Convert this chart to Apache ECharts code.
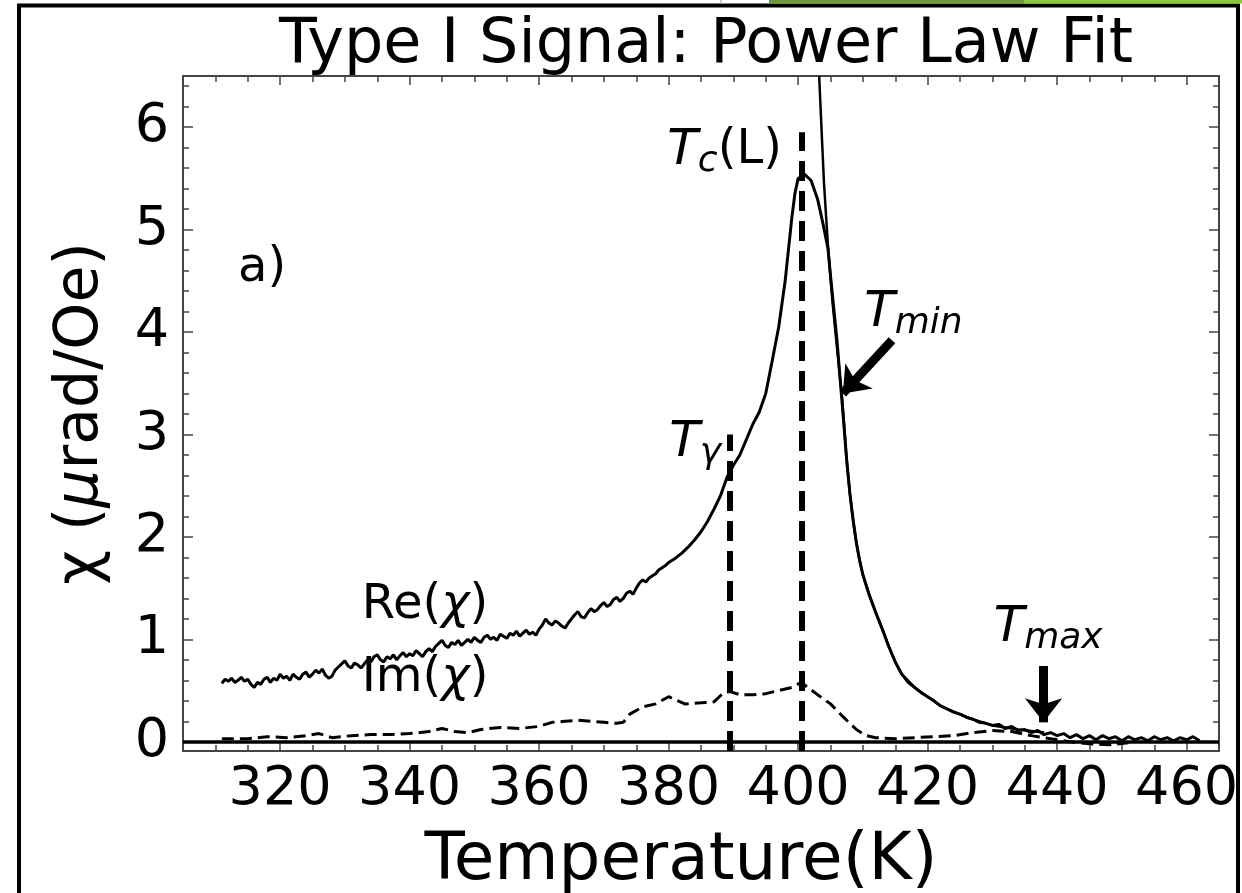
<!DOCTYPE html>
<html>
<head>
<meta charset="utf-8">
<script src="https://cdn.jsdelivr.net/npm/echarts@6/dist/echarts.min.js"></script>
<style>
html,body{margin:0;padding:0;background:#fff;overflow:hidden;}
#chart{width:1242px;height:893px;}
</style>
</head>
<body>
<div id="chart"></div>
<script>
// ---- Data ----
const reT = [311,311.5,312,312.5,313,313.5,314,314.5,315,315.5,316,316.5,317,317.5,318,318.5,319,319.5,320,320.5,321,321.5,322,322.5,323,323.5,324,324.5,325,325.5,326,326.5,327,327.5,328,328.5,329,329.5,330,330.5,331,331.5,332,332.5,333,333.5,334,334.5,335,335.5,336,336.5,337,337.5,338,338.5,339,339.5,340,340.5,341,341.5,342,342.5,343,343.5,344,344.5,345,345.5,346,346.5,347,347.5,348,348.5,349,349.5,350,350.5,351,351.5,352,352.5,353,353.5,354,354.5,355,355.5,356,356.5,357,357.5,358,358.5,359,359.5,360,360.5,361,361.5,362,362.5,363,363.5,364,364.5,365,365.5,366,366.5,367,367.5,368,368.5,369,369.5,370,370.5,371,371.5,372,372.5,373,373.5,374,374.5,375,375.5,376,376.5,377,377.5,378,378.5,379,379.5,380,381,382,383,384,385,386,387,388,389,390,391,392,393,394,395,396,397,398,399,399.5,400,401,402,403,403.8,404.6,405,406,407,407.5,408,408.5,409,409.5,410,411,412,413,414,415,416,417,418,419,420,421,422,423,424,425,426,427,428,429,430,431,432,433,434,435,436,437,438,439,440,441,442,443,444,445,446,447,448,449,450,451,452,453,454,455,456,457,458,459,460,461,462];
const reV = [0.57,0.61,0.59,0.62,0.58,0.60,0.63,0.59,0.61,0.56,0.53,0.58,0.56,0.61,0.63,0.58,0.62,0.60,0.66,0.62,0.64,0.60,0.66,0.63,0.61,0.66,0.68,0.63,0.66,0.70,0.67,0.71,0.65,0.62,0.64,0.70,0.73,0.76,0.79,0.74,0.72,0.77,0.75,0.72,0.76,0.80,0.78,0.83,0.85,0.80,0.78,0.83,0.81,0.85,0.80,0.84,0.87,0.83,0.86,0.84,0.89,0.86,0.83,0.88,0.91,0.88,0.93,0.96,0.99,0.94,0.92,0.97,0.95,0.99,0.94,0.97,1.00,0.97,1.02,0.99,0.97,1.02,1.04,1.00,1.02,0.99,1.05,1.03,1.01,1.06,1.04,1.08,1.03,1.06,1.09,1.05,1.07,1.04,1.10,1.14,1.20,1.16,1.14,1.18,1.16,1.13,1.11,1.16,1.20,1.24,1.27,1.22,1.21,1.26,1.30,1.27,1.29,1.33,1.36,1.32,1.34,1.39,1.41,1.37,1.40,1.45,1.47,1.44,1.50,1.55,1.58,1.56,1.60,1.62,1.64,1.68,1.70,1.72,1.75,1.79,1.84,1.90,1.97,2.05,2.15,2.27,2.40,2.58,2.70,2.80,2.95,3.10,3.22,3.40,3.72,4.05,4.50,5.10,5.35,5.50,5.54,5.48,5.30,5.07,4.82,4.55,3.92,3.15,2.75,2.42,2.16,1.94,1.77,1.63,1.43,1.26,1.10,0.93,0.78,0.66,0.58,0.53,0.48,0.44,0.40,0.35,0.32,0.29,0.27,0.24,0.22,0.19,0.18,0.16,0.17,0.13,0.15,0.11,0.12,0.09,0.11,0.07,0.09,0.06,0.08,0.04,0.07,0.03,0.06,0.02,0.06,0.03,0.05,0.01,0.05,0.02,0.04,0.01,0.05,0.02,0.04,0.01,0.04,0.02,0.05,0.01,0.04,0.02,0.03];

const imT = [311,315,318,321,324,326,328,331,334,337,340,343,345,347,349,351,354,357,360,362,364,366,368,370,372,373,374,376,378,380,381,382.5,385,387,388.5,389.5,391,393,395,397,399,400.5,401.5,403,405,407,409,410.5,412,415,418,421,424,427,430,433,436,439,442,445,448,451];
const imV = [0.03,0.03,0.05,0.04,0.06,0.08,0.04,0.06,0.07,0.07,0.08,0.10,0.13,0.10,0.09,0.12,0.14,0.13,0.15,0.19,0.20,0.21,0.20,0.19,0.18,0.19,0.27,0.34,0.37,0.44,0.41,0.37,0.38,0.39,0.48,0.49,0.46,0.46,0.47,0.50,0.53,0.58,0.53,0.46,0.37,0.24,0.12,0.06,0.04,0.03,0.04,0.05,0.06,0.09,0.11,0.10,0.06,0.03,0.00,-0.02,-0.03,-0.01];

const fitT = [403.25,403.6,404,404.6,405.3,406,406.8,407.5,408,408.5,409,409.5,410,411,412,413,414,415,416,418,422,426,430,434,438];
const fitV = [6.5,6.0,5.45,4.85,4.3,3.85,3.35,2.75,2.42,2.16,1.94,1.77,1.63,1.43,1.26,1.10,0.93,0.78,0.66,0.53,0.35,0.24,0.16,0.12,0.09];

const tGamma = 389.5, tGammaTop = 3.0;
const tCL = 400.5, tCLTop = 5.95;
const xMin = 305, xMax = 465, yMin = -0.09, yMax = 6.5;

const titleText = 'Type I Signal: Power Law Fit';
const xName = 'Temperature(K)';
const yName = '{n|χ (}{i|μ}{n|rad/Oe)}';

// annotation anchors (data coords, left edge / vertical middle of text)
const notes = [
  {t:313.5, v:4.62, text:'a)'},
  {t:379.8, v:5.77, text:'{it|T}{sub|c}{n|(L)}'},
  {t:380.1, v:2.92, text:'{it|T}{sub|γ}'},
  {t:410.2, v:4.19, text:'{it|T}{sub|min}'},
  {t:430.2, v:1.11, text:'{it|T}{sub|max}'},
  {t:332.6, v:1.33, text:'{n|Re(}{it2|χ}{n|)}'},
  {t:332.6, v:0.62, text:'{n|Im(}{it2|χ}{n|)}'}
];
const arrows = [
  {from:[414.5,3.92], to:[406.9,3.40]},
  {from:[437.9,0.74], to:[437.9,0.19]}
];

const F = 'DejaVu Sans';
const chart = echarts.init(document.getElementById('chart'));

const pair = (a,b) => a.map((x,i)=>[x,b[i]]);
const axisCommon = {
  type:'value', min:xMin, max:xMax, splitNumber:8,
  axisLine:{show:true, onZero:false, lineStyle:{color:'#444', width:2}},
  axisTick:{show:true, inside:true, length:9, lineStyle:{color:'#444', width:1.5}},
  minorTick:{show:true, splitNumber:4, length:6, lineStyle:{color:'#444', width:1.5}},
  splitLine:{show:false}
};
const yCommon = {
  type:'value', min:yMin, max:yMax, splitNumber:7,
  axisLine:{show:true, onZero:false, lineStyle:{color:'#444', width:2}},
  axisTick:{show:true, inside:true, length:10, lineStyle:{color:'#444', width:1.5}},
  minorTick:{show:true, splitNumber:5, length:6, lineStyle:{color:'#444', width:1.5}},
  splitLine:{show:false}
};

chart.setOption({
  animation:false,
  backgroundColor:'#fff',
  textStyle:{fontFamily:F},
  title:{text:titleText, left:274, top:10, textStyle:{fontFamily:F, fontSize:62, fontWeight:'normal', color:'#000'}},
  grid:{left:183, top:76, right:23, bottom:142, containLabel:false, outerBoundsMode:'none'},
  xAxis:[
    Object.assign({}, axisCommon, {position:'bottom', name:xName, nameLocation:'middle', nameGap:78,
      nameTextStyle:{fontFamily:F, fontSize:66, color:'#000', padding:[0,40,0,0]},
      axisLabel:{show:true, margin:12, fontFamily:F, fontSize:54, color:'#000',
        formatter:v => (Math.abs(v % 20) < 1e-6 ? String(v) : '')}}),
    Object.assign({}, axisCommon, {position:'top', axisLabel:{show:false}})
  ],
  yAxis:[
    Object.assign({}, yCommon, {position:'left', name:yName, nameLocation:'middle', nameGap:72,
      nameTextStyle:{fontFamily:F, fontSize:60, color:'#000',
        rich:{n:{fontFamily:F, fontSize:60, color:'#000'}, i:{fontFamily:F, fontSize:60, fontStyle:'italic', color:'#000'}}},
      axisLabel:{show:true, margin:14, fontFamily:F, fontSize:54, color:'#000',
        formatter:v => (Math.abs(v - Math.round(v)) < 1e-6 ? String(Math.round(v)) : '')}}),
    Object.assign({}, yCommon, {position:'right', axisLabel:{show:false}})
  ],
  series:[
    {type:'line', name:'Re', data:pair(reT, reV), showSymbol:false, symbol:'none',
      lineStyle:{color:'#000', width:3}, z:5,
      markLine:{silent:true, symbol:['none','none'], label:{show:false},
        lineStyle:{color:'#000', width:3.5, type:'solid'},
        data:[[{coord:[xMin,0]},{coord:[xMax,0]}]]}},
    {type:'line', name:'Im', data:pair(imT, imV), showSymbol:false, symbol:'none',
      lineStyle:{color:'#000', width:3, type:[12,6]}, z:4},
    {type:'line', name:'Fit', data:pair(fitT, fitV), showSymbol:false, symbol:'none',
      lineStyle:{color:'#000', width:2.5}, z:6, clip:true},
    {type:'line', name:'marks', data:[], showSymbol:false,
      markLine:{silent:true, symbol:['none','none'], label:{show:false},
        lineStyle:{color:'#000', width:6, type:[20,10]},
        data:[
          [{coord:[tGamma,yMin]},{coord:[tGamma,tGammaTop]}],
          [{coord:[tCL,yMin]},{coord:[tCL,tCLTop]}]
        ]}},
    {type:'line', name:'arrows', data:[], showSymbol:false,
      markLine:{silent:true, symbol:['none','arrow'], symbolSize:[28,24], label:{show:false},
        lineStyle:{color:'#000', width:9, type:'solid'},
        data: arrows.map(a => [{coord:a.from},{coord:a.to}])}}
  ]
});

// annotations and page frame
const rich = {
  it:{fontFamily:F, fontStyle:'italic', fontSize:50, color:'#000'},
  sub:{fontFamily:F, fontStyle:'italic', fontSize:36, color:'#000', padding:[22,0,0,0]},
  n:{fontFamily:F, fontSize:48, color:'#000'},
  it2:{fontFamily:F, fontStyle:'italic', fontSize:48, color:'#000'}
};
const g = notes.map(n => {
  const p = chart.convertToPixel({xAxisIndex:0, yAxisIndex:0}, [n.t, n.v]);
  return {type:'text', x:p[0], y:p[1], z:20,
    style:{text:n.text, rich:rich, fontFamily:F, fontSize:48, fill:'#000', align:'left', verticalAlign:'middle'}};
});
g.push({type:'rect', shape:{x:19, y:5.5, width:1219, height:900}, style:{fill:'none', stroke:'#000', lineWidth:4}, z:30, silent:true});
g.push({type:'rect', shape:{x:769, y:0, width:255, height:3.5}, style:{fill:'#6f9a3c'}, z:31, silent:true});
g.push({type:'rect', shape:{x:1024, y:0, width:218, height:3.5}, style:{fill:'#8cc43f'}, z:31, silent:true});
g.push({type:'line', shape:{x1:721, y1:0, x2:721, y2:4}, style:{stroke:'#999', lineWidth:1}, z:31, silent:true});
chart.setOption({graphic:g});
</script>
</body>
</html>
